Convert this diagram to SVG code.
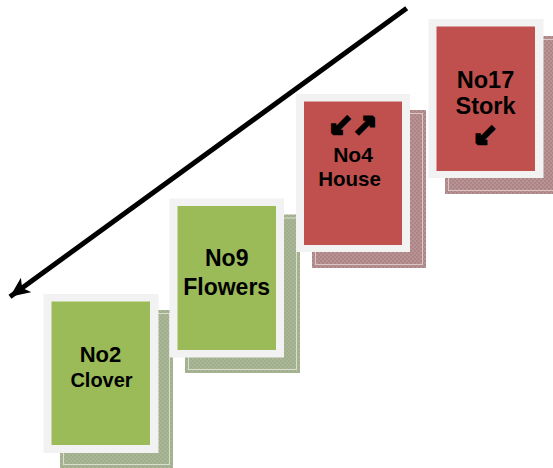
<svg xmlns="http://www.w3.org/2000/svg" width="553" height="468" viewBox="0 0 553 468">
<defs>
<pattern id="chkG" width="4" height="4" patternUnits="userSpaceOnUse">
<rect width="4" height="4" fill="#a9b697"/>
<rect width="2" height="2" fill="#a0ae8c"/>
<rect x="2" y="2" width="2" height="2" fill="#a0ae8c"/>
</pattern>
<pattern id="chkR" width="4" height="4" patternUnits="userSpaceOnUse">
<rect width="4" height="4" fill="#b89394"/>
<rect width="2" height="2" fill="#ad8586"/>
<rect x="2" y="2" width="2" height="2" fill="#ad8586"/>
</pattern>
<marker id="ah" markerUnits="userSpaceOnUse" markerWidth="24" markerHeight="20" refX="20" refY="9" orient="auto">
<path d="M0,0 L20,9 L0,18 L5,9 Z" fill="#000"/>
</marker>
</defs>
<style>
.frame{fill:#f2f2f2}
.green{fill:#9bbb59}
.red{fill:#c0504d}
.shG{fill:url(#chkG)}
.shR{fill:url(#chkR)}
.inG{fill:none;stroke:#d9decf;stroke-width:1}
.inR{fill:none;stroke:#dcc6c6;stroke-width:1}
.t{font-family:"Liberation Sans",Arial,sans-serif;font-weight:bold;fill:#000;text-anchor:middle}
.ic{font-family:"DejaVu Sans",sans-serif;font-weight:bold;fill:#000;stroke:#000;stroke-width:2.3;text-anchor:middle}
</style>
<g id="card-no2">
<rect class="shG" x="60" y="310" width="113" height="158"/>
<rect class="inG" x="63.5" y="313.5" width="106" height="151"/>
<rect class="frame" x="43.5" y="294" width="115" height="159"/>
<rect class="green" x="51.5" y="301.5" width="98.5" height="143.5"/>
<text class="t" x="100.5" y="361.5" font-size="22">No2</text>
<text class="t" x="101.5" y="386.5" font-size="20">Clover</text>
</g>
<g id="card-no9">
<rect class="shG" x="185" y="214.5" width="115" height="158.5"/>
<rect class="inG" x="188.5" y="218" width="108" height="151.5"/>
<rect class="frame" x="169.5" y="198.5" width="114.5" height="159"/>
<rect class="green" x="177.5" y="206" width="98.5" height="144"/>
<text class="t" x="226.7" y="266" font-size="23">No9</text>
<text class="t" x="226.7" y="295" font-size="23">Flowers</text>
</g>
<g id="card-no4">
<rect class="shR" x="312" y="110" width="114" height="158"/>
<rect class="inR" x="315.5" y="113.5" width="107" height="151"/>
<rect class="frame" x="296" y="94" width="114" height="158"/>
<rect class="red" x="304" y="101.5" width="98" height="143.5"/>
<text class="ic" x="340.5" y="136" font-size="30">↙</text>
<text class="ic" x="364.5" y="136" font-size="30">↗</text>
<text class="t" x="353" y="161.5" font-size="21">No4</text>
<text class="t" x="349.5" y="186" font-size="20.5">House</text>
</g>
<g id="card-no17">
<rect class="shR" x="445" y="36" width="114" height="158"/>
<rect class="inR" x="448.5" y="39.5" width="107" height="151"/>
<rect class="frame" x="428.5" y="19" width="115" height="159"/>
<rect class="red" x="436.5" y="26.5" width="98.5" height="144.5"/>
<text class="t" x="485.5" y="87.5" font-size="23.5">No17</text>
<text class="t" x="485.5" y="114" font-size="23.5">Stork</text>
<text class="ic" x="485" y="145.5" font-size="30">↙</text>
</g>
<g id="connectors">
<line x1="406.7" y1="8.3" x2="10" y2="296.7" stroke="#000" stroke-width="5" marker-end="url(#ah)"/>
</g>
</svg>
